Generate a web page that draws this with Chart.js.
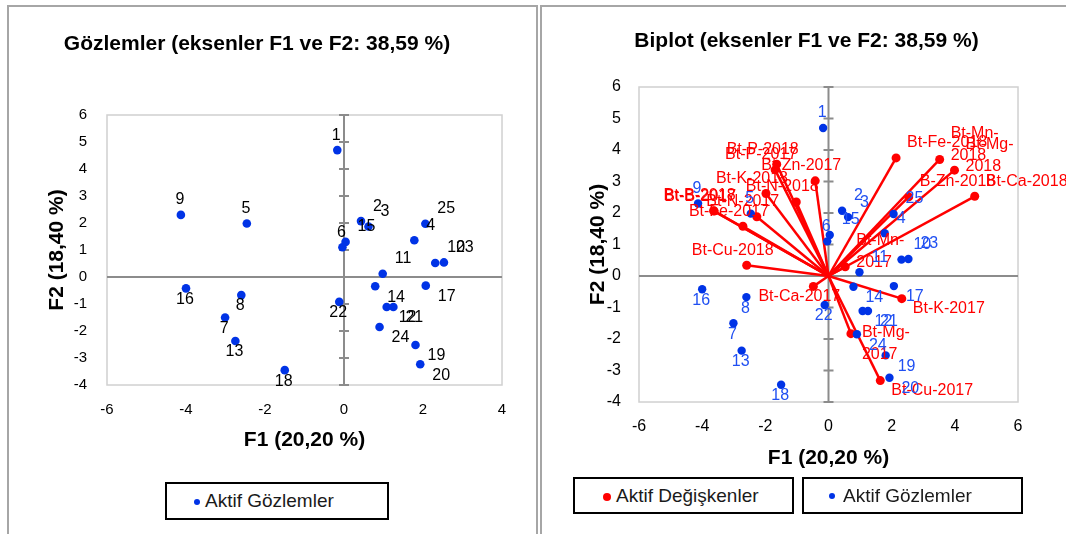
<!DOCTYPE html>
<html lang="tr">
<head>
<meta charset="utf-8">
<title>Gözlemler ve Biplot (F1 ve F2)</title>
<script src="https://cdn.jsdelivr.net/npm/chart.js@4.4.1/dist/chart.umd.min.js"></script>
<style>
  html, body { margin: 0; padding: 0; background: #fff; width: 1066px; height: 534px; overflow: hidden; position: relative; font-family: "Liberation Sans", Arial, sans-serif; }
  .panel { position: absolute; border: 2px solid #a6a6a6; box-sizing: border-box; }
  #panelLeft { left: 7px; top: 5px; width: 531px; height: 560px; }
  #panelRight { left: 540px; top: 5px; width: 560px; height: 560px; }
  canvas { position: absolute; top: 0; }
  #cLeft { left: 0; }
  #cRight { left: 538px; }
  .legend { position: absolute; border: 2px solid #000; box-sizing: border-box; background: #fff; font-size: 19px; color: #1a1a1a; white-space: nowrap; }
  .legend .dot { position: absolute; border-radius: 50%; }
  .legend .txt { position: absolute; top: 50%; transform: translateY(-50%); }
</style>
</head>
<body>
<div class="panel" id="panelLeft"></div>
<div class="panel" id="panelRight"></div>
<canvas id="cLeft" width="538" height="534"></canvas>
<canvas id="cRight" width="528" height="534"></canvas>

<div class="legend" style="left:165px; top:482px; width:224px; height:38px;">
  <span class="dot" style="left:27px; top:15px; width:6px; height:6px; background:#0033e6;"></span>
  <span class="txt" style="left:38px;">Aktif Gözlemler</span>
</div>
<div class="legend" style="left:573px; top:477px; width:221px; height:37px;">
  <span class="dot" style="left:28px; top:14px; width:8px; height:8px; background:#ff0000;"></span>
  <span class="txt" style="left:41px;">Aktif Değişkenler</span>
</div>
<div class="legend" style="left:802px; top:477px; width:221px; height:37px;">
  <span class="dot" style="left:25px; top:14px; width:6px; height:6px; background:#0033e6;"></span>
  <span class="txt" style="left:39px;">Aktif Gözlemler</span>
</div>

<script>
// observations (F1, F2)
const obsNames = ['1', '2', '3', '4', '5', '6', '7', '8', '9', '10', '11', '12', '13',
  '14', '15', '16', '17', '18', '19', '20', '21', '22', '23', '24', '25'];
const obsF1 = [-0.17, 0.43, 0.62, 1.78, -2.46, -0.04, -3.01, -2.60, -4.13, 2.31, 0.98, 1.08, -2.75,
  0.79, 0.04, -4.00, 2.07, -1.50, 1.81, 1.93, 1.25, -0.12, 2.53, 0.90, 2.06];
const obsF2 = [4.70, 2.07, 1.87, 1.36, 1.98, 1.10, -1.50, -0.67, 2.30, 0.52, 0.12, -1.11, -2.37,
  -0.34, 1.30, -0.42, -0.32, -3.45, -2.52, -3.23, -1.11, -0.92, 0.54, -1.85, 1.97];

// active variables (biplot vectors)
const varNames = ['Bt-P-2018', 'Bt-P-2017', 'Bt-Zn-2017', 'Bt-K-2018', 'Bt-N-2018', 'Bt-B-2018',
  'Bt-B-2017', 'Bt-N-2017', 'Bt-Fe-2017', 'Bt-Cu-2018', 'Bt-Ca-2017', 'Bt-Fe-2018', 'Bt-Mn-2018',
  'Bt-Mg-2018', 'Bt-Ca-2018', 'B-Zn-2018', 'Bt-Mn-2017', 'Bt-K-2017', 'Bt-Mg-2017', 'Bt-Cu-2017'];
const varF1 = [-1.64, -1.69, -0.42, -1.98, -1.02, -3.64, -3.62, -2.27, -2.71, -2.59, -0.48, 2.14, 3.52,
  3.99, 4.63, 2.54, 0.53, 2.32, 0.71, 1.64];
const varF2 = [3.55, 3.37, 3.02, 2.62, 2.35, 2.07, 2.06, 1.88, 1.58, 0.34, -0.33, 3.75, 3.70,
  3.36, 2.53, 2.51, 0.29, -0.72, -1.83, -3.32];

const xTicksLeft = [-6, -4, -2, 0, 2, 4];
const xTicksRight = [-6, -4, -2, 0, 2, 4, 6];
const yTicks = [-4, -3, -2, -1, 0, 1, 2, 3, 4, 5, 6];

const BLUE = '#0033e6';
const RED = '#ff0000';
Chart.defaults.font.family = '"Liberation Sans", Arial, sans-serif';

// gray frame + zero axes with cross ticks on the vertical one
const plotFrame = {
  id: 'plotFrame',
  beforeDatasetsDraw(chart) {
    const { ctx, chartArea: a, scales: { x, y } } = chart;
    const x0 = x.getPixelForValue(0), y0 = y.getPixelForValue(0);
    ctx.save();
    ctx.strokeStyle = '#d0d0d0';
    ctx.lineWidth = 1.5;
    ctx.strokeRect(a.left, a.top, a.width, a.height);
    ctx.strokeStyle = '#8c8c8c';
    ctx.lineWidth = 2;
    ctx.beginPath();
    ctx.moveTo(a.left, y0); ctx.lineTo(a.right, y0);
    ctx.moveTo(x0, a.top); ctx.lineTo(x0, a.bottom);
    y.ticks.forEach(t => {
      const py = y.getPixelForValue(t.value);
      ctx.moveTo(x0 - 5, py); ctx.lineTo(x0 + 5, py);
    });
    ctx.stroke();
    ctx.restore();
  }
};

// point labels: right of the point when F1 > 0, centred otherwise; above when F2 > 0
function labelPlugin(sets) {
  return {
    id: 'pointLabels',
    afterDatasetsDraw(chart) {
      const { ctx, scales: { x, y } } = chart;
      ctx.save();
      ctx.textBaseline = 'middle';
      sets.forEach(s => {
        ctx.font = '16px "Liberation Sans", Arial, sans-serif';
        ctx.fillStyle = s.color;
        s.names.forEach((name, i) => {
          const px = x.getPixelForValue(s.xs[i]);
          const py = y.getPixelForValue(s.ys[i]);
          let lines = [name];
          if (s.wrap && ctx.measureText(name).width > s.wrap) {
            const k = name.lastIndexOf('-') + 1;
            lines = [name.slice(0, k), name.slice(k)];
          }
          const right = s.xs[i] > 0;
          ctx.textAlign = right ? 'left' : 'center';
          const tx = px + (right ? s.dxRight : s.dxLeft);
          const cy = s.ys[i] > 0 ? py - s.dyUp : py + s.dyDown;
          const top = cy - (lines.length - 1) * s.lh / 2;
          lines.forEach((l, j) => ctx.fillText(l, tx, top + j * s.lh));
        });
      });
      ctx.restore();
    }
  };
}

function axes(xTicks, o) {
  const fix = list => scale => { scale.ticks = list.map(v => ({ value: v })); };
  return {
    x: {
      type: 'linear', min: xTicks[0], max: xTicks[xTicks.length - 1],
      afterBuildTicks: fix(xTicks),
      afterFit: s => { s.height = 70; },
      grid: { display: false, drawTicks: false }, border: { display: false },
      ticks: { padding: o.xPad, color: '#000', font: { size: o.tickSize }, maxRotation: 0, autoSkip: false },
      title: { display: true, text: 'F1 (20,20 %)', color: '#000', font: { size: 21, weight: 'bold' },
        padding: { top: 0, bottom: o.xTitlePad } }
    },
    y: {
      type: 'linear', min: yTicks[0], max: yTicks[yTicks.length - 1],
      afterBuildTicks: fix(yTicks),
      afterFit: s => { s.width = o.yWidth; },
      grid: { display: false, drawTicks: false }, border: { display: false },
      ticks: { padding: o.yPad, color: '#000', font: { size: o.tickSize }, autoSkip: false },
      title: { display: true, text: 'F2 (18,40 %)', color: '#000', font: { size: 21, weight: 'bold' },
        padding: { top: o.yTitlePad, bottom: 0 } }
    }
  };
}

function baseOptions(title, t, pad, scales) {
  return {
    responsive: false,
    animation: false,
    layout: { padding: pad },
    plugins: {
      legend: { display: false },
      tooltip: { enabled: false },
      title: { display: true, text: title, color: '#000', font: { size: 21, weight: 'bold' },
        padding: { top: t[0], bottom: t[1] } }
    },
    scales: scales
  };
}

const obsPoints = obsF1.map((v, i) => ({ x: v, y: obsF2[i] }));

// left: observations only
new Chart(document.getElementById('cLeft'), {
  type: 'scatter',
  data: {
    datasets: [{
      label: 'Aktif Gözlemler', data: obsPoints,
      backgroundColor: BLUE, borderWidth: 0, pointRadius: 4.3
    }]
  },
  options: baseOptions('Gözlemler (eksenler F1 ve F2: 38,59 %)', [31.4, 58.4],
    { left: 12, right: 36, top: 0, bottom: 79 },
    axes(xTicksLeft, { xPad: 16, yPad: 20, tickSize: 15, xTitlePad: 2.4, yWidth: 95, yTitlePad: 32.4 })),
  plugins: [plotFrame, labelPlugin([
    { names: obsNames, xs: obsF1, ys: obsF2, color: '#000', dxRight: 12, dxLeft: -1, dyUp: 15, dyDown: 11, lh: 19 }
  ])]
});

// right: biplot
const vectorSets = varNames.map((n, i) => ({
  label: n,
  data: [{ x: 0, y: 0 }, { x: varF1[i], y: varF2[i] }],
  showLine: true, borderColor: RED, borderWidth: 2.5,
  backgroundColor: RED, pointBorderWidth: 0, pointRadius: [0, 4.5], order: 1
}));

new Chart(document.getElementById('cRight'), {
  type: 'scatter',
  data: {
    datasets: [{
      label: 'Aktif Gözlemler', data: obsPoints,
      backgroundColor: BLUE, borderWidth: 0, pointRadius: 4.2, order: 0
    }].concat(vectorSets)
  },
  options: baseOptions('Biplot (eksenler F1 ve F2: 38,59 %)', [28.4, 33.4],
    { left: 57, right: 48, top: 0, bottom: 62 },
    axes(xTicksRight, { xPad: 15, yPad: 18, tickSize: 16, xTitlePad: 1.4, yWidth: 44, yTitlePad: -9.6 })),
  plugins: [plotFrame, labelPlugin([
    { names: varNames, xs: varF1, ys: varF2, color: RED, dxRight: 11, dxLeft: -14, dyUp: 15, dyDown: 10, lh: 22, wrap: 82.7 },
    { names: obsNames, xs: obsF1, ys: obsF2, color: '#1f4ff2', dxRight: 12, dxLeft: -1, dyUp: 15, dyDown: 11, lh: 19 }
  ])]
});
</script>
</body>
</html>
